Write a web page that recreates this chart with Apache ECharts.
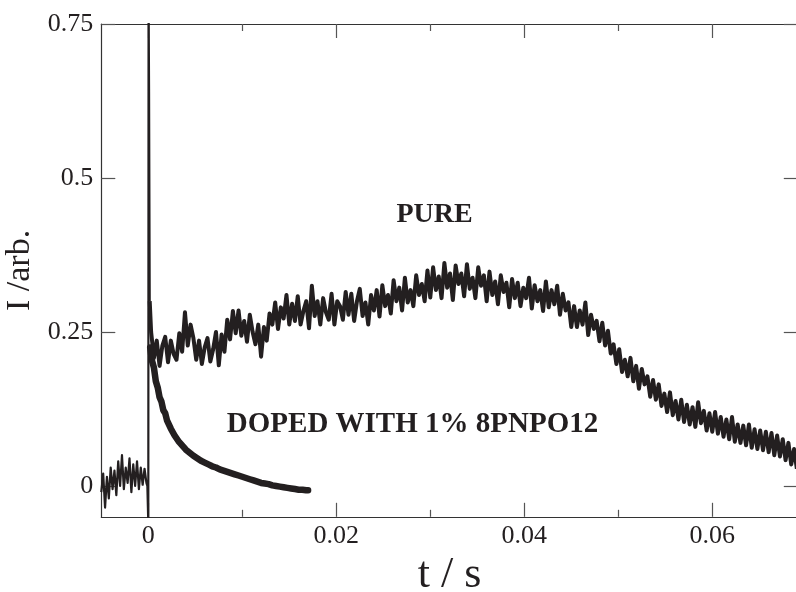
<!DOCTYPE html>
<html>
<head>
<meta charset="utf-8">
<script src="https://cdn.jsdelivr.net/npm/echarts@6/dist/echarts.min.js"></script>
<style>
html,body{margin:0;padding:0;background:#fff;}
#chart{width:796px;height:592px;}
</style>
</head>
<body>
<div id="chart"></div>
<script>
// ---- data ----
// time grids (uniform sampling of the recorded traces)
const baseStart = -0.005, baseStep = 0.0002;   // pre-trigger baseline
const pureStep = 0.0003;                        // PURE trace, starts one step after 0
const dopedStep = 0.0002;                       // DOPED trace, starts one step after 0

const baseValues = [
  -0.010, 0.020, -0.035, 0.015, -0.020, 0.030, -0.005, 0.025, -0.015, 0.040,
  0.000, 0.050, -0.005, 0.030, 0.005, 0.045, -0.010, 0.035, 0.000, 0.040,
  -0.005, 0.030, 0.002, 0.028, 0.005
];

const spikeTimes = [-0.0001, 0.0, 0.00003, 0.00008, 0.00015];
const spikeValues = [0.0, -0.06, 0.80, 0.64, 0.30];

const pureValues = [
  0.250, 0.208, 0.236, 0.195, 0.228, 0.242, 0.201, 0.236, 0.214, 0.205,
  0.248, 0.218, 0.282, 0.228, 0.262, 0.240, 0.205, 0.236, 0.198, 0.225,
  0.240, 0.202, 0.222, 0.250, 0.196, 0.246, 0.218, 0.270, 0.238, 0.284,
  0.248, 0.285, 0.244, 0.268, 0.234, 0.278, 0.250, 0.230, 0.262, 0.210,
  0.258, 0.236, 0.280, 0.262, 0.298, 0.255, 0.290, 0.272, 0.310, 0.262,
  0.296, 0.268, 0.308, 0.262, 0.284, 0.300, 0.256, 0.325, 0.276, 0.300,
  0.262, 0.305, 0.282, 0.270, 0.312, 0.262, 0.300, 0.292, 0.270, 0.315,
  0.278, 0.312, 0.268, 0.300, 0.320, 0.276, 0.298, 0.262, 0.310, 0.285,
  0.318, 0.275, 0.326, 0.292, 0.310, 0.280, 0.334, 0.300, 0.322, 0.285,
  0.338, 0.298, 0.318, 0.292, 0.342, 0.310, 0.328, 0.300, 0.350, 0.306,
  0.355, 0.318, 0.340, 0.305, 0.362, 0.322, 0.345, 0.302, 0.358, 0.328,
  0.345, 0.308, 0.360, 0.320, 0.338, 0.305, 0.355, 0.325, 0.342, 0.300,
  0.348, 0.310, 0.332, 0.295, 0.342, 0.315, 0.330, 0.290, 0.336, 0.305,
  0.330, 0.292, 0.322, 0.305, 0.338, 0.288, 0.326, 0.300, 0.318, 0.284,
  0.332, 0.290, 0.318, 0.295, 0.325, 0.278, 0.312, 0.285, 0.298, 0.258,
  0.292, 0.258, 0.285, 0.262, 0.298, 0.245, 0.278, 0.255, 0.268, 0.235,
  0.265, 0.228, 0.252, 0.215, 0.230, 0.198, 0.222, 0.185, 0.205, 0.178,
  0.208, 0.170, 0.195, 0.158, 0.190, 0.165, 0.178, 0.145, 0.172, 0.140,
  0.165, 0.130, 0.150, 0.120, 0.152, 0.115, 0.138, 0.108, 0.140, 0.104,
  0.132, 0.100, 0.128, 0.096, 0.136, 0.102, 0.122, 0.090, 0.118, 0.088,
  0.120, 0.085, 0.112, 0.080, 0.108, 0.076, 0.112, 0.072, 0.100, 0.070,
  0.098, 0.066, 0.100, 0.062, 0.092, 0.060, 0.090, 0.058, 0.088, 0.055,
  0.086, 0.050, 0.082, 0.048, 0.076, 0.042, 0.070, 0.035, 0.060, 0.028
];

const dopedValues = [
  0.225, 0.203, 0.192, 0.170, 0.160, 0.144, 0.137, 0.123, 0.118, 0.106,
  0.103, 0.093, 0.091, 0.082, 0.081, 0.073, 0.072, 0.066, 0.064, 0.059,
  0.058, 0.054, 0.053, 0.049, 0.049, 0.045, 0.045, 0.041, 0.042, 0.038,
  0.038, 0.035, 0.035, 0.032, 0.033, 0.030, 0.030, 0.027, 0.028, 0.025,
  0.026, 0.023, 0.024, 0.021, 0.022, 0.019, 0.020, 0.017, 0.018, 0.015,
  0.016, 0.013, 0.014, 0.011, 0.012, 0.009, 0.010, 0.007, 0.008, 0.005,
  0.007, 0.004, 0.006, 0.003, 0.004, 0.001, 0.003, 0.000, 0.002, -0.001,
  0.000, -0.002, -0.001, -0.003, -0.002, -0.004, -0.003, -0.005, -0.004, -0.006,
  -0.005, -0.006, -0.006, -0.007, -0.007
];

const xMajorTicks = [0, 0.02, 0.04, 0.06];
const xMinorTicks = [0.01, 0.03, 0.05];
const yTicks = [0, 0.25, 0.5, 0.75];
const xRange = [-0.005, 0.0691];
const yRange = [-0.05, 0.75];

const pureLabel = 'PURE';
const dopedLabel = 'DOPED WITH 1% 8PNPO12';
const xName = 't / s';
const yName = 'I /arb.';

// ---- build series data ----
const baseData = [];
baseValues.forEach((v, i) => baseData.push([baseStart + i * baseStep, v]));
spikeTimes.forEach((t, i) => baseData.push([t, spikeValues[i]]));

const pureData = [baseData[baseData.length - 1]];
pureValues.forEach((v, i) => pureData.push([(i + 1) * pureStep, v]));

const dopedData = dopedValues.map((v, i) => [(i + 1) * dopedStep, v]);

// ---- chart ----
const FONT = '"Liberation Serif", "DejaVu Serif", serif';
const INK = '#231f20';
const fmt = v => String(+v.toFixed(4));

function xAx(pos, ticks, len, showLine, showLabel, extra) {
  return Object.assign({
    type: 'value', min: xRange[0], max: xRange[1], position: pos,
    axisLine: { show: showLine, onZero: false, lineStyle: { color: '#333', width: 1.2 } },
    axisTick: { show: true, inside: true, length: len, customValues: ticks, lineStyle: { color: '#555', width: 1.2 } },
    axisLabel: { show: showLabel, customValues: ticks, formatter: fmt, fontFamily: FONT, fontSize: 26, color: INK, margin: 6 },
    splitLine: { show: false }
  }, extra || {});
}
function yAx(pos, showLabel, extra) {
  return Object.assign({
    type: 'value', min: yRange[0], max: yRange[1], position: pos,
    axisLine: { show: true, onZero: false, lineStyle: { color: '#333', width: 1.2 } },
    axisTick: { show: true, inside: true, length: 14, customValues: yTicks, lineStyle: { color: '#555', width: 1.2 } },
    axisLabel: { show: showLabel, customValues: yTicks, formatter: fmt, fontFamily: FONT, fontSize: 26, color: INK, margin: 8 },
    splitLine: { show: false }
  }, extra || {});
}

const chart = echarts.init(document.getElementById('chart'), null, { renderer: 'canvas' });
chart.setOption({
  animation: false,
  backgroundColor: '#fff',
  grid: { left: 101.3, top: 24, width: 696.5, height: 492.8, containLabel: false, outerBoundsMode: 'none' },
  xAxis: [
    xAx('bottom', xMajorTicks, 14, true, true, {
      name: xName, nameLocation: 'middle', nameGap: 36,
      nameTextStyle: { fontFamily: FONT, fontSize: 44, color: INK }
    }),
    xAx('bottom', xMinorTicks, 7, false, false),
    xAx('top', xMajorTicks, 14, true, false),
    xAx('top', xMinorTicks, 7, false, false)
  ],
  yAxis: [
    yAx('left', true, {
      name: yName, nameLocation: 'middle', nameGap: 51, nameRotate: 90,
      nameTextStyle: { fontFamily: FONT, fontSize: 34, color: INK }
    }),
    yAx('right', false)
  ],
  series: [
    {
      name: 'baseline', type: 'line', data: baseData, xAxisIndex: 0, yAxisIndex: 0,
      showSymbol: false, symbol: 'none', clip: true, sampling: null,
      lineStyle: { color: INK, width: 2.2, join: 'round' }
    },
    {
      name: 'pure', type: 'line', data: pureData, xAxisIndex: 0, yAxisIndex: 0,
      showSymbol: false, symbol: 'none', clip: true, sampling: null,
      lineStyle: { color: INK, width: 4, join: 'round' }
    },
    {
      name: 'doped', type: 'line', data: dopedData, xAxisIndex: 0, yAxisIndex: 0,
      showSymbol: false, symbol: 'none', clip: true,
      lineStyle: { color: INK, width: 6.5, join: 'round', cap: 'round' }
    }
  ],
  graphic: [
    { type: 'text', x: 434.5, y: 215, style: { text: pureLabel, font: 'bold 28px ' + FONT, fill: INK, align: 'center', verticalAlign: 'middle' } },
    { type: 'text', x: 412.5, y: 425, style: { text: dopedLabel, font: 'bold 29px ' + FONT, fill: INK, align: 'center', verticalAlign: 'middle' } }
  ]
});
</script>
</body>
</html>
